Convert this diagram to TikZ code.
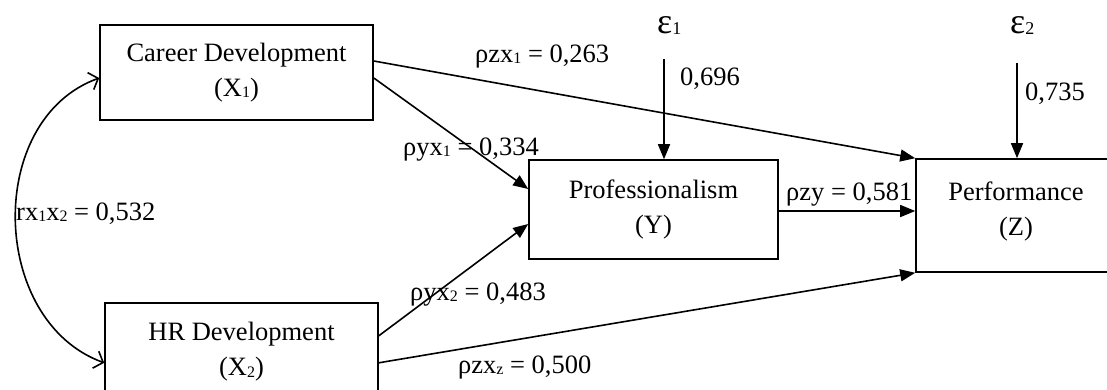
\documentclass[tikz,border=0pt]{standalone}
\usepackage{fontspec}
\setmainfont{Liberation Serif}
\usetikzlibrary{arrows.meta}
\newcommand\lsub[1]{\raisebox{-1.5pt}{\fontsize{16}{16}\selectfont #1}}
\begin{document}
\begin{tikzpicture}[x=1pt,y=-1pt,
  box/.style={draw, line width=1.6pt, inner sep=0pt, align=center, font=\fontsize{26.5}{35}\selectfont},
  lbl/.style={inner sep=0pt, anchor=base west, font=\fontsize{26.5}{32}\selectfont},
  pth/.style={line width=1.6pt, -{Triangle[length=15pt,width=12pt]}},
  corr/.style={line width=1.6pt, {Straight Barb[length=8pt,width=18pt]}-{Straight Barb[length=8pt,width=18pt]}}
]
\clip (0,0) rectangle (1107,389);
\node[box, minimum width=273pt, minimum height=95pt] (cd) at (236.5,72.5) {Career Development\\(X\lsub{1})};
\node[box, minimum width=273pt, minimum height=100pt, anchor=north] (hr) at (241.5,302) {\begin{tabular}{@{}c@{}}HR Development\\(X\lsub{2})\rule[-14pt]{0pt}{0pt}\end{tabular}};
\node[box, minimum width=249pt, minimum height=99pt] (prof) at (653.5,209.5) {Professionalism\\(Y)};
\node[box, minimum width=200pt, minimum height=113pt] (perf) at (1016,215.5) {\begin{tabular}{@{}c@{}}Performance\\(Z)\rule[-19pt]{0pt}{0pt}\end{tabular}};

\draw[pth] ([yshift=11.5pt]cd.east) -- (perf.north west);
\draw[pth] ([yshift=-5.5pt]cd.east) -- ([yshift=20.5pt]prof.west);
\draw[pth] ([yshift=17pt]hr.east) -- ([yshift=-14.5pt]prof.west);
\draw[pth] ([yshift=-10pt]hr.east) -- (perf.south west);
\draw[pth] ([yshift=-1.5pt]prof.east) -- ([yshift=-1.5pt]prof.east -| perf.west);
\coordinate (e1) at (664,59);
\draw[pth] (e1) -- (e1 |- prof.north);
\coordinate (e2) at (1017,63);
\draw[pth] (e2) -- (e2 |- perf.north);
\draw[corr] ([yshift=-5.5pt]cd.west) .. controls +(200:122pt) and +(160:122pt) .. ([yshift=-10pt]hr.west);

\node[lbl] (eps1) at (657,33) {{\fontsize{36}{36}\selectfont ε}\raisebox{-1pt}{\fontsize{18}{18}\selectfont 1}};
\node[lbl] (eps2) at (1010,33) {{\fontsize{36}{36}\selectfont ε}\raisebox{-1pt}{\fontsize{18}{18}\selectfont 2}};
\node[lbl] (v1) at (680,85) {0,696};
\node[lbl] (v2) at (1025,100) {0,735};
\node[lbl] (l1) at (475,62) {ρzx\lsub{1} = 0,263};
\node[lbl] (l2) at (403,155) {ρyx\lsub{1} = 0,334};
\node[lbl] (l3) at (16,220) {rx\lsub{1}x\lsub{2} = 0,532};
\node[lbl] (l4) at (786,200) {ρzy = 0,581};
\node[lbl] (l5) at (410,300) {ρyx\lsub{2} = 0,483};
\node[lbl] (l6) at (458,373) {ρzx\lsub{z} = 0,500};
\end{tikzpicture}
\end{document}
